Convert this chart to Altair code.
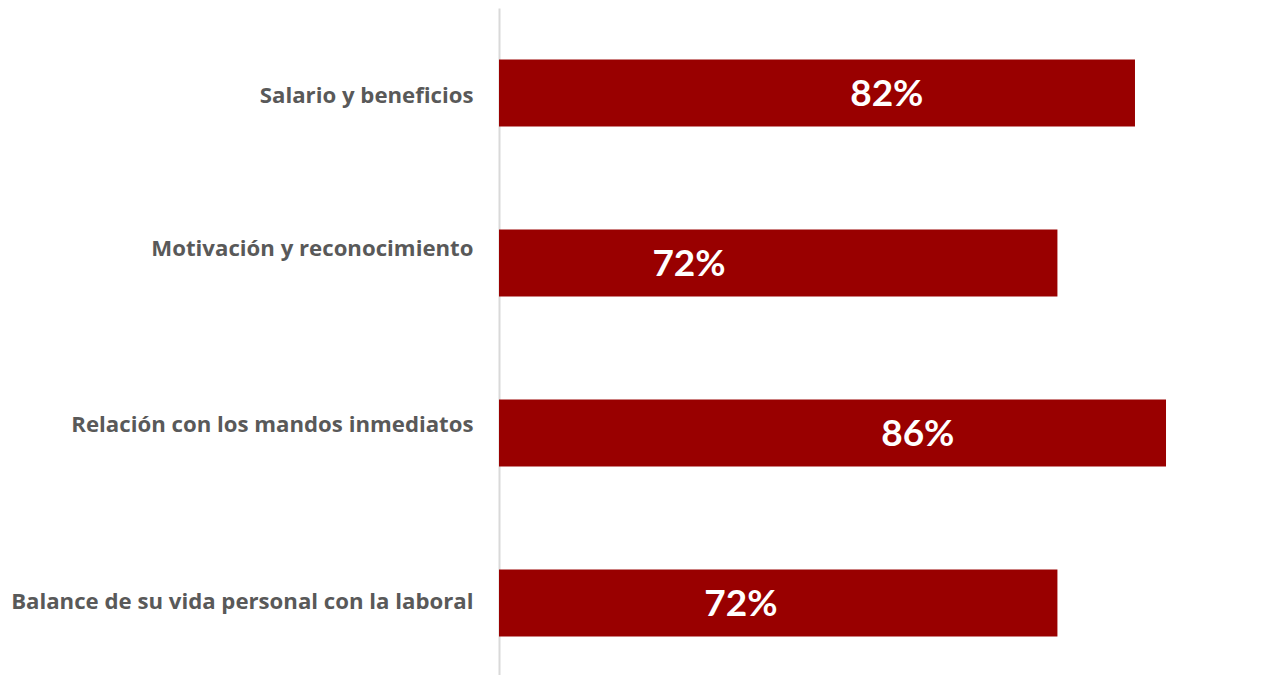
import altair as alt
import pandas as pd

categories = [
    "Salario y beneficios",
    "Motivación y reconocimiento",
    "Relación con los mandos inmediatos",
    "Balance de su vida personal con la laboral",
]
values = [82, 72, 86, 72]
labels = ["82%", "72%", "86%", "72%"]
label_at = [50, 24.5, 54, 31.2]

df = pd.DataFrame({"cat": categories, "val": values, "lab": labels, "pos": label_at})

# per-label vertical nudges of the category labels (as in the original layout)
label_nudge = {categories[0]: 3, categories[1]: -14, categories[2]: -8, categories[3]: -1}
label_offset = {
    "condition": [
        {"test": f"datum.value === '{k}'", "value": v} for k, v in label_nudge.items()
    ],
    "value": 0,
}

y_enc = alt.Y(
    "cat:N",
    sort=categories,
    title=None,
    scale=alt.Scale(paddingInner=0.606, paddingOuter=0.303),
    axis=alt.Axis(
        domain=True,
        domainColor="#d9d9d9",
        domainWidth=2,
        ticks=False,
        grid=False,
        labelPadding=26,
        labelOffset=label_offset,
        labelFont="Open Sans",
        labelFontSize=22.2,
        labelFontWeight="bold",
        labelColor="#595959",
        labelLimit=600,
    ),
)
x_scale = alt.Scale(domain=[0, 96.7], nice=False, zero=True)

bars = alt.Chart(df).mark_bar(color="#990000").encode(
    y=y_enc,
    x=alt.X("val:Q", scale=x_scale, axis=None),
)

text = alt.Chart(df).mark_text(
    color="white", font="Lato", fontSize=37, fontWeight="bold",
    align="center", baseline="middle", dy=2,
).encode(
    y=alt.Y("cat:N", sort=categories),
    x=alt.X("pos:Q", scale=x_scale, axis=None),
    text="lab:N",
)

chart = (
    alt.layer(bars, text)
    .properties(
        width=750,
        height=680,
        padding={"left": 491, "top": 0, "right": 0, "bottom": -13},
        autosize=alt.AutoSizeParams(type="none"),
        background="white",
    )
    .configure_view(stroke=None)
)

chart.save("out.html", embed_options={"renderer": "svg", "actions": False})
